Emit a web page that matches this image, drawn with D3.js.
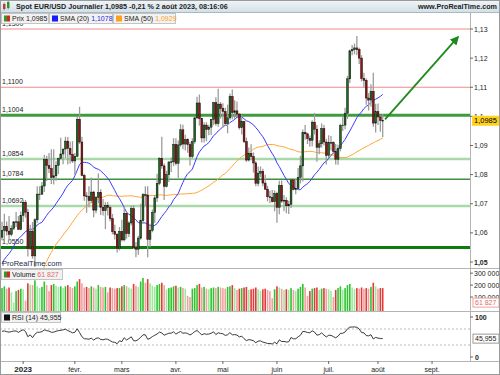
<!DOCTYPE html>
<html>
<head>
<meta charset="utf-8">
<script src="https://cdn.jsdelivr.net/npm/d3@7/dist/d3.min.js"></script>
<style>
body { margin: 0; background: #fff; }
svg text { font-family: "Liberation Sans", Arial, sans-serif; }
</style>
</head>
<body>
<div id="chart"></div>
<script>
// DATA (daily EUR/USD, 19 dec. 2022 -> 2 août 2023)
var startDay = "2022-12-19";
var opens = [1.0585,1.0609,1.0622,1.0606,1.0595,1.0615,1.0638,1.0638,1.0612,1.0660,
  1.0705,1.0671,1.0546,1.0606,1.0521,1.0645,1.0733,1.0733,1.0761,1.0852,1.0831,1.0821,1.0790,1.0796,1.0832,1.0855,1.0871,1.0888,1.0915,1.0890,1.0870,1.0847,
  1.0863,1.0990,1.0912,1.0797,1.0727,1.0725,1.0711,1.0740,1.0678,1.0722,1.0738,1.0688,1.0676,1.0694,1.0687,1.0649,1.0604,1.0595,1.0547,1.0605,
  1.0576,1.0667,1.0597,1.0634,1.0683,1.0549,1.0544,1.0582,1.0642,1.0731,1.0730,1.0577,1.0609,1.0670,1.0720,1.0770,1.0856,1.0830,1.0760,1.0800,1.0843,1.0844,1.0904,
  1.0839,1.0902,1.0954,1.0905,1.0920,1.0903,1.0862,1.0913,1.0995,1.1046,1.0992,1.0926,1.0970,1.0955,1.0963,1.0990,1.1047,1.0975,1.1042,1.1027,
  1.1017,1.0975,1.0995,1.1068,1.1013,1.1019,1.1008,1.0961,1.0982,1.0913,1.0850,1.0873,1.0862,1.0840,1.0770,1.0805,1.0811,1.0771,1.0750,1.0724,1.0722,1.0707,1.0735,
  1.0688,1.0762,1.0709,1.0712,1.0693,1.0698,1.0782,1.0749,1.0752,1.0791,1.0830,1.0945,1.0940,1.0924,1.0918,1.0980,1.0956,1.0894,1.0906,1.0958,1.0912,1.0866,
  1.0910,1.0910,1.0880,1.0852,1.0890,1.0968,1.0970,1.1011,1.1129,1.1225,1.1229,1.1235,1.1229,1.1200,1.1130,1.1124,1.1063,1.1056,1.1086,1.0977,1.1016,
  1.0998,1.0986];
var highs = [1.0638,1.0666,1.0639,1.0658,1.0626,1.0640,1.0672,1.0658,1.0673,1.0714,
  1.0713,1.0683,1.0628,1.0637,1.0650,1.0760,1.0760,1.0775,1.0868,1.0865,1.0874,1.0887,1.0887,1.0846,1.0858,1.0927,1.0888,1.0930,1.0929,1.0914,1.0915,1.0874,
  1.1000,1.1033,1.0930,1.0803,1.0740,1.0760,1.0790,1.0745,1.0727,1.0804,1.0750,1.0716,1.0705,1.0706,1.0695,1.0665,1.0628,1.0600,1.0620,1.0645,
  1.0692,1.0670,1.0640,1.0694,1.0695,1.0569,1.0590,1.0700,1.0736,1.0760,1.0760,1.0631,1.0680,1.0730,1.0803,1.0860,1.0930,1.0838,1.0813,1.0847,1.0859,1.0925,1.0925,
  1.0917,1.0973,1.0971,1.0937,1.0925,1.0913,1.0925,1.0998,1.1067,1.1075,1.0995,1.0980,1.0980,1.0971,1.0990,1.1050,1.1066,1.1095,1.1049,1.1045,
  1.1030,1.1040,1.1078,1.1092,1.1055,1.1051,1.1011,1.1005,1.0985,1.0927,1.0893,1.0904,1.0876,1.0846,1.0828,1.0828,1.0820,1.0800,1.0762,1.0745,1.0747,1.0746,1.0741,
  1.0779,1.0780,1.0730,1.0722,1.0710,1.0787,1.0786,1.0785,1.0823,1.0865,1.0955,1.0970,1.0944,1.0934,1.0987,1.1012,1.0970,1.0918,1.0976,1.0970,1.0923,1.0935,
  1.0933,1.0915,1.0905,1.0903,1.0975,1.1000,1.1030,1.1139,1.1230,1.1245,1.1250,1.1276,1.1236,1.1210,1.1150,1.1130,1.1080,1.1110,1.1150,1.1043,1.1044,
  1.1004,1.1008];
var lows = [1.0575,1.0570,1.0591,1.0573,1.0588,1.0610,1.0620,1.0610,1.0609,1.0637,
  1.0652,1.0519,1.0541,1.0511,1.0483,1.0635,1.0713,1.0731,1.0740,1.0778,1.0806,1.0768,1.0766,1.0779,1.0802,1.0852,1.0836,1.0857,1.0835,1.0838,1.0840,1.0800,
  1.0860,1.0905,1.0794,1.0710,1.0669,1.0688,1.0703,1.0654,1.0667,1.0702,1.0661,1.0660,1.0613,1.0660,1.0640,1.0595,1.0577,1.0533,1.0540,1.0570,
  1.0570,1.0580,1.0586,1.0625,1.0545,1.0516,1.0525,1.0576,1.0632,1.0692,1.0516,1.0551,1.0602,1.0635,1.0706,1.0764,1.0820,1.0713,1.0756,1.0775,1.0809,1.0829,1.0832,
  1.0788,1.0896,1.0887,1.0883,1.0875,1.0831,1.0856,1.0906,1.0990,1.0968,1.0910,1.0910,1.0915,1.0935,1.0936,1.0970,1.0968,1.0964,1.0992,1.0961,
  1.0967,1.0942,1.0988,1.0990,1.0992,1.1000,1.0955,1.0938,1.0909,1.0844,1.0845,1.0849,1.0807,1.0760,1.0760,1.0791,1.0760,1.0748,1.0708,1.0702,1.0704,1.0674,1.0635,
  1.0664,1.0703,1.0674,1.0667,1.0665,1.0685,1.0746,1.0733,1.0748,1.0770,1.0776,1.0920,1.0905,1.0896,1.0897,1.0938,1.0844,1.0870,1.0893,1.0900,1.0835,1.0857,
  1.0883,1.0870,1.0835,1.0834,1.0880,1.0950,1.0956,1.0991,1.1115,1.1210,1.1213,1.1210,1.1180,1.1120,1.1100,1.1040,1.1020,1.1033,1.0964,1.0945,1.0970,
  1.0947,1.0929];
var closes = [1.0609,1.0622,1.0606,1.0595,1.0615,1.0638,1.0638,1.0612,1.0660,1.0705,
  1.0671,1.0546,1.0606,1.0521,1.0645,1.0733,1.0733,1.0761,1.0852,1.0831,1.0821,1.0790,1.0796,1.0832,1.0855,1.0871,1.0888,1.0915,1.0890,1.0870,1.0847,1.0863,
  1.0990,1.0912,1.0797,1.0727,1.0725,1.0711,1.0740,1.0678,1.0722,1.0738,1.0688,1.0676,1.0694,1.0687,1.0649,1.0604,1.0595,1.0547,1.0605,1.0576,
  1.0667,1.0597,1.0634,1.0683,1.0549,1.0544,1.0582,1.0642,1.0731,1.0730,1.0577,1.0609,1.0670,1.0720,1.0770,1.0856,1.0830,1.0760,1.0800,1.0843,1.0844,1.0904,1.0839,
  1.0902,1.0954,1.0905,1.0920,1.0903,1.0862,1.0913,1.0995,1.1046,1.0992,1.0926,1.0970,1.0955,1.0963,1.0990,1.1047,1.0975,1.1042,1.1027,1.1017,
  1.0975,1.0995,1.1068,1.1013,1.1019,1.1008,1.0961,1.0982,1.0913,1.0850,1.0873,1.0862,1.0840,1.0770,1.0805,1.0811,1.0771,1.0750,1.0724,1.0722,1.0707,1.0735,1.0688,
  1.0762,1.0709,1.0712,1.0693,1.0698,1.0782,1.0749,1.0752,1.0791,1.0830,1.0945,1.0940,1.0924,1.0918,1.0980,1.0956,1.0894,1.0906,1.0958,1.0912,1.0866,1.0910,
  1.0910,1.0880,1.0852,1.0890,1.0968,1.0970,1.1011,1.1129,1.1225,1.1229,1.1235,1.1229,1.1200,1.1130,1.1124,1.1063,1.1056,1.1086,1.0977,1.1016,1.0998,
  1.0986,1.0985];
// closes before the chart start (for SMA / RSI warm-up)
var preCloses = [0.9740,0.9705,0.9706,0.9703,0.9779,0.9722,0.9838,0.9855,0.9773,0.9781,0.9861,0.9878,0.9965,1.0079,0.9963,0.9964,0.9882,
  0.9876,0.9821,0.9749,0.9960,1.0018,1.0074,1.0011,1.0209,1.0356,1.0325,1.0350,1.0394,1.0363,1.0325,1.0243,1.0305,1.0398,1.0409,1.0398,1.0341,1.0330,1.0405,
  1.0522,1.0536,1.0491,1.0467,1.0505,1.0556,1.0530,1.0537,1.0631,1.0684,1.0627,1.0584];
// volume in thousands
var volumes = [175,190,170,180,140,55,150,160,170,165,
  70,215,205,200,240,190,175,185,230,200,150,200,210,195,185,190,175,190,200,185,175,190,
  230,250,215,180,185,175,190,180,170,200,185,180,185,140,180,175,170,175,175,190,
  200,190,180,170,210,195,185,230,260,220,250,215,195,185,200,210,220,200,165,175,180,190,195,
  180,185,175,170,110,100,170,175,200,210,180,185,170,165,175,180,175,185,180,175,
  170,185,190,200,175,160,170,175,180,185,160,165,170,180,165,150,165,170,160,150,90,165,190,
  180,170,160,165,160,175,160,150,170,185,210,180,110,150,170,175,180,160,170,175,170,165,
  150,100,160,175,190,160,175,200,210,180,165,175,170,180,170,175,170,185,220,190,170,175,
  175,61.827];

var monthLabels = ["2023", "févr.", "mars", "avr.", "mai", "juin", "juil.", "août", "sept."];
var priceTicks = [1.05, 1.06, 1.07, 1.08, 1.09, 1.10, 1.11, 1.12, 1.13];
var volTicks = [100000, 200000, 300000];
var levels = [
  {v: 1.1300, label: "1,1300", color: "#f28b8b", w: 1.2},
  {v: 1.1100, label: "1,1100", color: "#f28b8b", w: 1.2},
  {v: 1.1004, label: "1,1004", color: "#3f9b3f", w: 3},
  {v: 1.0854, label: "1,0854", color: "#a9d9a9", w: 2.5},
  {v: 1.0784, label: "1,0784", color: "#3f8f3f", w: 1.5},
  {v: 1.0692, label: "1,0692", color: "#a9d9a9", w: 2.5},
  {v: 1.0550, label: "1,0550", color: "#0f7a0f", w: 3}
];
var arrowFrom = {i: 163, p: 1.0990};
var arrowTo = {i: 194, p: 1.1272};
var lastPrice = 1.0985, lastVol = 61827, lastRsi = 45.955;

// HELPERS
function sma(arr, n) {
    return arr.map(function (d, i) {
        if (i < n - 1) return null;
        return d3.mean(arr.slice(i - n + 1, i + 1));
    });
}

function rsi(arr, n) {
    var res = arr.map(function () { return null; });
    var ag = 0, al = 0;
    for (var i = 1; i < arr.length; i++) {
        var ch = arr[i] - arr[i - 1];
        var g = Math.max(ch, 0), l = Math.max(-ch, 0);
        if (i <= n) {
            ag += g / n; al += l / n;
        } else {
            ag = (ag * (n - 1) + g) / n;
            al = (al * (n - 1) + l) / n;
        }
        if (i >= n) res[i] = al === 0 ? 100 : 100 - 100 / (1 + ag / al);
    }
    return res;
}

function fr(v, d) {
    return v.toFixed(d).replace(".", ",");
}

// trading days (weekdays) from the start, long enough to reach september
var allDays = d3.timeDay.range(new Date(startDay + "T12:00:00"), new Date("2023-09-30T12:00:00"))
    .filter(function (d) { return d.getDay() !== 0 && d.getDay() !== 6; });

var data = closes.map(function (c, i) {
    return {i: i, o: opens[i], h: highs[i], l: lows[i], c: c, v: volumes[i] * 1000};
});

var pre = preCloses.length;
var allC = preCloses.concat(closes);
var s20 = sma(allC, 20).slice(pre), s50 = sma(allC, 50).slice(pre), r14 = rsi(allC, 14).slice(pre);

// LAYOUT
var W = 500, H = 375;
var plotR = 470;
var mainTop = 13, mainBot = 268, volTop = 268, volBot = 311, rsiTop = 311, rsiBot = 361;

var x = d3.scaleLinear().domain([0, 200]).range([2, 472]);
var y = d3.scaleLinear().domain([1.05, 1.13]).range([262, 29]);
var yv = d3.scaleLinear().domain([0, 360000]).range([309, 266]);
var yr = d3.scaleLinear().domain([0, 100]).range([357, 317]);

var svg = d3.select("#chart").append("svg").attr("width", W).attr("height", H);
svg.append("rect").attr("width", W).attr("height", H).attr("fill", "#fff");

var defs = svg.append("defs");
var grad = defs.append("linearGradient").attr("id", "hdr").attr("x1", 0).attr("y1", 0).attr("x2", 0).attr("y2", 1);
grad.append("stop").attr("offset", "0%").attr("stop-color", "#f1f6f9");
grad.append("stop").attr("offset", "100%").attr("stop-color", "#d3e0e8");
defs.append("clipPath").attr("id", "clipMain").append("rect")
    .attr("x", 0).attr("y", mainTop).attr("width", plotR).attr("height", mainBot - mainTop);
defs.append("clipPath").attr("id", "clipRsi").append("rect")
    .attr("x", 0).attr("y", rsiTop).attr("width", plotR).attr("height", rsiBot - rsiTop);
defs.append("marker").attr("id", "arrowHead").attr("viewBox", "0 0 10 10")
    .attr("refX", 8).attr("refY", 5).attr("markerWidth", 5).attr("markerHeight", 5)
    .attr("orient", "auto")
    .append("path").attr("d", "M0,0L10,5L0,10z").attr("fill", "#1d8a1d");

// main panel
var main = svg.append("g").attr("clip-path", "url(#clipMain)");

// horizontal levels
main.selectAll("line.level").data(levels).enter().append("line")
    .attr("class", "level")
    .attr("x1", 0).attr("x2", plotR)
    .attr("y1", function (d) { return y(d.v); })
    .attr("y2", function (d) { return y(d.v); })
    .attr("stroke", function (d) { return d.color; })
    .attr("stroke-width", function (d) { return d.w; });

main.selectAll("text.level").data(levels).enter().append("text")
    .attr("class", "level")
    .attr("x", 2).attr("y", function (d) { return y(d.v) - 3; })
    .style("font-size", "7px").style("fill", "#222")
    .text(function (d) { return d.label; });

// moving averages
var line = function (arr) {
    return d3.line()
        .defined(function (d) { return d !== null; })
        .x(function (d, i) { return x(i); })
        .y(function (d) { return y(d); })(arr);
};
main.append("path").attr("d", line(s50)).attr("fill", "none").attr("stroke", "#ffa733").attr("stroke-width", 1);
main.append("path").attr("d", line(s20)).attr("fill", "none").attr("stroke", "#3a3aff").attr("stroke-width", 1);

// candles
var candle = main.selectAll("g.candle").data(data).enter().append("g").attr("class", "candle");
candle.append("line")
    .attr("x1", function (d) { return x(d.i); })
    .attr("x2", function (d) { return x(d.i); })
    .attr("y1", function (d) { return y(d.h); })
    .attr("y2", function (d) { return y(d.l); })
    .attr("stroke", "#9c9c9c").attr("stroke-width", 1.3);
candle.append("rect")
    .attr("x", function (d) { return x(d.i) - 0.9; })
    .attr("width", 1.8)
    .attr("y", function (d) { return y(Math.max(d.o, d.c)); })
    .attr("height", function (d) { return Math.max(0.6, Math.abs(y(d.o) - y(d.c))); })
    .attr("fill", function (d) { return d.c >= d.o ? "#1e6b1e" : "#9a1010"; })
    .attr("stroke", "#111").attr("stroke-width", 0.5);

// arrow
main.append("line")
    .attr("x1", x(arrowFrom.i)).attr("y1", y(arrowFrom.p))
    .attr("x2", x(arrowTo.i)).attr("y2", y(arrowTo.p))
    .attr("stroke", "#1d8a1d").attr("stroke-width", 1.8)
    .attr("marker-end", "url(#arrowHead)");

// watermark
svg.append("text").attr("x", 2).attr("y", 266).style("font-size", "7.5px").style("fill", "#1a2a4a")
    .text("ProRealTime.com");

// volume bars
svg.selectAll("rect.vol").data(data).enter().append("rect")
    .attr("class", "vol")
    .attr("x", function (d) { return x(d.i) - 0.8; })
    .attr("width", 1.6)
    .attr("y", function (d) { return yv(d.v); })
    .attr("height", function (d) { return volBot - yv(d.v); })
    .attr("fill", function (d, i) {
        var up = d.c >= d.o;
        var pale = i > 0 && d.v < data[i - 1].v;
        if (up) return pale ? "#9ee89e" : "#2fc42f";
        return pale ? "#f0a0a0" : "#e03a3a";
    });

// RSI
svg.selectAll("line.rsiLvl").data([70, 30]).enter().append("line")
    .attr("class", "rsiLvl")
    .attr("x1", 0).attr("x2", plotR)
    .attr("y1", function (d) { return yr(d); }).attr("y2", function (d) { return yr(d); })
    .attr("stroke", "#aaa").attr("stroke-dasharray", "2,2").attr("stroke-width", 0.8);
svg.append("path")
    .attr("clip-path", "url(#clipRsi)")
    .attr("d", d3.line().defined(function (d) { return d !== null; })
        .x(function (d, i) { return x(i); }).y(function (d) { return yr(d); })(r14))
    .attr("fill", "none").attr("stroke", "#222").attr("stroke-width", 0.9);

// panel frames
[mainBot, volBot, rsiBot].forEach(function (yy) {
    svg.append("line").attr("x1", 0).attr("x2", W).attr("y1", yy + 0.5).attr("y2", yy + 0.5)
        .attr("stroke", "#b4b4b4");
});
svg.append("line").attr("x1", plotR + 0.5).attr("x2", plotR + 0.5).attr("y1", 12).attr("y2", rsiBot)
    .attr("stroke", "#b4b4b4");

// right price axis
var ax = svg.append("g");
priceTicks.forEach(function (t) {
    ax.append("line").attr("x1", plotR).attr("x2", plotR + 3).attr("y1", y(t)).attr("y2", y(t)).attr("stroke", "#666");
    ax.append("text").attr("x", plotR + 4).attr("y", y(t) + 2.5)
        .style("font-size", "7px").style("fill", "#222")
        .style("font-weight", t === 1.05 ? "bold" : "normal")
        .text(d3.format(".2~f")(t).replace(".", ","));
});
var pb = ax.append("g").attr("transform", "translate(" + (plotR + 2) + "," + y(lastPrice) + ")");
pb.append("rect").attr("x", 0).attr("y", -5).attr("width", 28).attr("height", 10).attr("fill", "#ffd21f");
pb.append("text").attr("x", 2).attr("y", 2.7).style("font-size", "7.5px").style("fill", "#000").text(fr(lastPrice, 4));

// volume axis
volTicks.forEach(function (t) {
    ax.append("line").attr("x1", plotR).attr("x2", plotR + 3).attr("y1", yv(t)).attr("y2", yv(t)).attr("stroke", "#666");
    ax.append("text").attr("x", plotR + 4).attr("y", yv(t) + 2.5).style("font-size", "7px").style("fill", "#222")
        .text(d3.format(",")(t).replace(/,/g, " "));
});
var vb = ax.append("g").attr("transform", "translate(" + (plotR + 3) + "," + (yv(lastVol) + 1) + ")");
vb.append("rect").attr("x", 0).attr("y", -4.5).attr("width", 26).attr("height", 9).attr("fill", "#fff").attr("stroke", "#f0a0a0");
vb.append("text").attr("x", 2).attr("y", 2.5).style("font-size", "7px").style("fill", "#e06a6a").text("61 827");

// rsi axis
[0, 100].forEach(function (t) {
    ax.append("line").attr("x1", plotR).attr("x2", plotR + 3).attr("y1", yr(t)).attr("y2", yr(t)).attr("stroke", "#666");
    ax.append("text").attr("x", plotR + 5).attr("y", yr(t) + 2.5).style("font-size", "7px").style("fill", "#222")
        .style("font-weight", "bold").text(t);
});
var rb = ax.append("g").attr("transform", "translate(" + (plotR + 3) + "," + yr(lastRsi) + ")");
rb.append("rect").attr("x", 0).attr("y", -4.5).attr("width", 26).attr("height", 9).attr("fill", "#fff").attr("stroke", "#999");
rb.append("text").attr("x", 2).attr("y", 2.5).style("font-size", "7px").style("fill", "#222").text(fr(lastRsi, 3));

// x axis (first trading day of each month)
var monthStarts = [];
allDays.forEach(function (d, i) {
    if (i > 0 && d.getMonth() !== allDays[i - 1].getMonth()) monthStarts.push(i);
});
monthStarts.forEach(function (mi, k) {
    ax.append("line").attr("x1", x(mi)).attr("x2", x(mi)).attr("y1", rsiBot).attr("y2", rsiBot + 3).attr("stroke", "#666");
    ax.append("text").attr("x", x(mi)).attr("y", 372).attr("text-anchor", "middle")
        .style("font-size", k === 0 ? "8px" : "7px").style("font-weight", k === 0 ? "bold" : "normal")
        .style("fill", "#222").text(monthLabels[k]);
});

// header bar
svg.append("rect").attr("x", 0).attr("y", 0).attr("width", W).attr("height", 12).attr("fill", "url(#hdr)");
svg.append("line").attr("x1", 0).attr("x2", W).attr("y1", 12.5).attr("y2", 12.5).attr("stroke", "#a9b9c4");
var icon = svg.append("g");
icon.append("rect").attr("x", 3).attr("y", 4).attr("width", 2.5).attr("height", 5).attr("fill", "#d33");
icon.append("rect").attr("x", 7).attr("y", 2).attr("width", 2.5).attr("height", 6).attr("fill", "#2a2");
icon.append("line").attr("x1", 4.2).attr("x2", 4.2).attr("y1", 2.5).attr("y2", 10.5).attr("stroke", "#555").attr("stroke-width", 0.6);
icon.append("line").attr("x1", 8.2).attr("x2", 8.2).attr("y1", 1).attr("y2", 9.5).attr("stroke", "#555").attr("stroke-width", 0.6);
svg.append("text").attr("x", 16).attr("y", 9).style("font-size", "7.2px").style("font-weight", "bold").style("fill", "#1d1d1d")
    .text("Spot EUR/USD Journalier 1,0985 -0,21 % 2 août 2023, 08:16:06");
svg.append("text").attr("x", 497).attr("y", 9).attr("text-anchor", "end")
    .style("font-size", "7.2px").style("font-weight", "bold").style("fill", "#1d1d1d").text("www.ProRealTime.com");

// legend boxes (top = y of the box)
function legendBox(g, x0, top, w, sw, label, val, valColor) {
    g.append("rect").attr("x", x0 + 0.5).attr("y", top + 0.5).attr("width", w).attr("height", 10)
        .attr("fill", "#f2f2f2").attr("stroke", "#c4c4c4");
    sw(g, x0 + 3, top + 2.5);
    var t = g.append("text").attr("x", x0 + 11).attr("y", top + 8.3).style("font-size", "7px");
    t.append("tspan").style("fill", "#222").text(label + " ");
    t.append("tspan").style("fill", valColor).text(val);
}
function twoTone(g, xx, yy) {
    g.append("rect").attr("x", xx).attr("y", yy).attr("width", 3).attr("height", 6).attr("fill", "#2a9a2a");
    g.append("rect").attr("x", xx + 3).attr("y", yy).attr("width", 3).attr("height", 6).attr("fill", "#d22");
}
function square(color) {
    return function (g, xx, yy) {
        g.append("rect").attr("x", xx).attr("y", yy).attr("width", 6).attr("height", 6).attr("fill", color);
    };
}
var lg = svg.append("g");
legendBox(lg, 1, 13, 47, twoTone, "Prix", "1,0985", "#222");
legendBox(lg, 49, 13, 63, square("#1a1aff"), "SMA (20)", "1,1078", "#2a2ae0");
legendBox(lg, 113, 13, 62, square("#ff9f1a"), "SMA (50)", "1,0929", "#ff9f1a");
legendBox(lg, 1, 269, 61, twoTone, "Volume", "61 827", "#e06a6a");
legendBox(lg, 1, 312, 59, square("#111"), "RSI (14)", "45,955", "#222");

// outer frame
svg.append("rect").attr("x", 0.5).attr("y", 0.5).attr("width", W - 1).attr("height", H - 1)
    .attr("fill", "none").attr("stroke", "#9a9a9a");
</script>
</body>
</html>
